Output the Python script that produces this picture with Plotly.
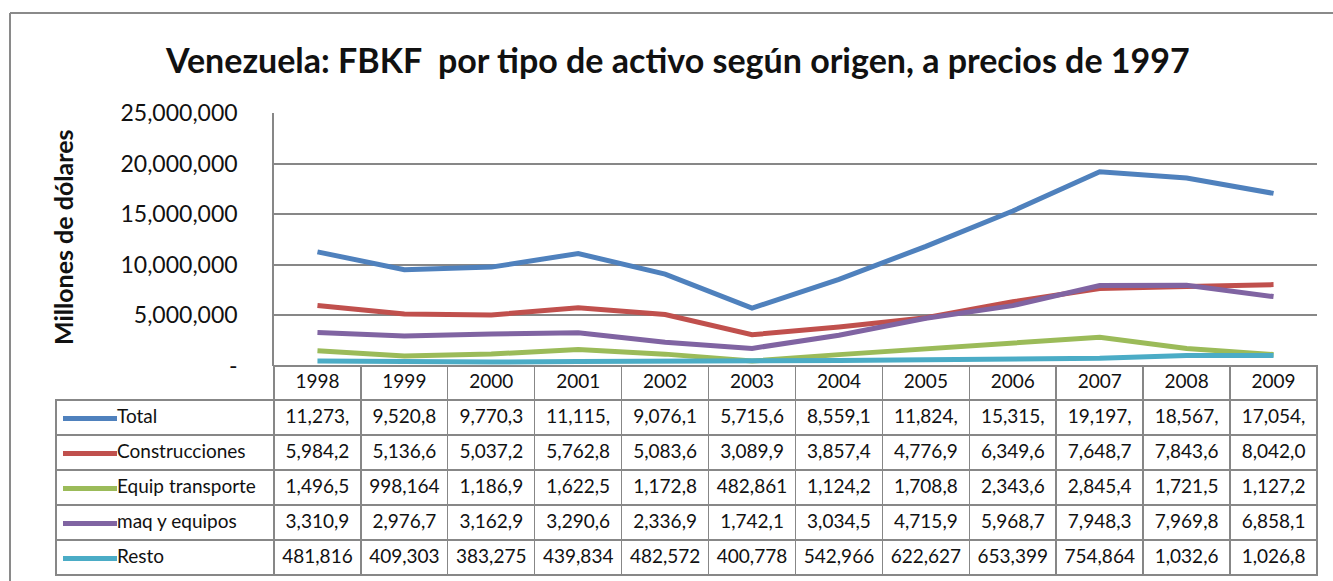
import plotly.graph_objects as go

W, H = 1333, 581

years = [1998, 1999, 2000, 2001, 2002, 2003, 2004, 2005, 2006, 2007, 2008, 2009]
series_names = ["Total", "Construcciones", "Equip transporte", "maq y equipos", "Resto"]
total = [11273500, 9520800, 9770300, 11115500, 9076100, 5715600, 8559100, 11824500, 15315500, 19197500, 18567500, 17054500]
construcciones = [5984200, 5136600, 5037200, 5762800, 5083600, 3089900, 3857400, 4776900, 6349600, 7648700, 7843600, 8042000]
equip_transporte = [1496500, 998164, 1186900, 1622500, 1172800, 482861, 1124200, 1708800, 2343600, 2845400, 1721500, 1127200]
maq_equipos = [3310900, 2976700, 3162900, 3290600, 2336900, 1742100, 3034500, 4715900, 5968700, 7948300, 7969800, 6858100]
resto = [481816, 409303, 383275, 439834, 482572, 400778, 542966, 622627, 653399, 754864, 1032600, 1026800]
colors = ["#4F81BD", "#C0504D", "#9BBB59", "#8064A2", "#4BACC6"]
ytick_vals = [0, 5000000, 10000000, 15000000, 20000000, 25000000]
ytick_text = ["-", "5,000,000", "10,000,000", "15,000,000", "20,000,000", "25,000,000"]

title = "Venezuela: FBKF  por tipo de activo según origen, a precios de 1997"
ytitle = "Millones de dólares"

all_series = [total, construcciones, equip_transporte, maq_equipos, resto]

FONT = "Lato"
GRID = "#878787"
TXT = "#111111"
HEADER_ROW = "__years__"
row_order = [HEADER_ROW] + series_names  # top to bottom


def px(x):
    return x / W


def py(y):
    return 1 - y / H


def cell_text(v):
    # Excel data table shows only as many characters as fit in the cell
    return f"{v:,}"[:7]


fig = go.Figure()

# main lines
for name, vals, col in zip(series_names, all_series, colors):
    fig.add_trace(go.Scatter(x=years, y=vals, mode="lines", name=name,
                             line=dict(color=col, width=5), showlegend=False,
                             hoverinfo="skip", xaxis="x", yaxis="y"))

# data table grid (borders only)
n_rows = len(series_names)
fig.add_trace(go.Table(
    domain=dict(x=[px(56), px(1317)], y=[py(578), py(366)]),
    columnwidth=[218] + [87] * len(years),
    header=dict(values=[""] * (len(years) + 1), height=34,
                fill_color="rgba(0,0,0,0)",
                line=dict(color=["rgba(0,0,0,0)"] + [GRID] * len(years), width=1.5)),
    cells=dict(values=[[""] * n_rows for _ in range(len(years) + 1)], height=35,
               fill_color="rgba(0,0,0,0)",
               line=dict(color=GRID, width=1.5)),
))

# table header (years) and values, placed on the same year axis as the lines
fig.add_trace(go.Scatter(x=years, y=[HEADER_ROW] * len(years), mode="text",
                         text=[str(y) for y in years],
                         textfont=dict(family=FONT, size=19, color=TXT),
                         showlegend=False, hoverinfo="skip",
                         xaxis="x", yaxis="y2", cliponaxis=False))
for name, vals in zip(series_names, all_series):
    fig.add_trace(go.Scatter(x=years, y=[name] * len(years), mode="text",
                             text=[cell_text(v) for v in vals],
                             textfont=dict(family=FONT, size=19, color=TXT),
                             showlegend=False, hoverinfo="skip",
                             xaxis="x", yaxis="y2", cliponaxis=False))

# legend keys inside the table's label column
for name, col in zip(series_names, colors):
    fig.add_trace(go.Scatter(x=[0, 1], y=[name, name], mode="lines+text",
                             text=["", name], textposition="middle right",
                             textfont=dict(family=FONT, size=19, color=TXT),
                             line=dict(color=col, width=5), showlegend=False,
                             hoverinfo="skip", xaxis="x2", yaxis="y2", cliponaxis=False))

fig.update_layout(
    width=W, height=H, margin=dict(l=0, r=0, t=0, b=0, autoexpand=False),
    paper_bgcolor="white", plot_bgcolor="rgba(0,0,0,0)", showlegend=False,
    xaxis=dict(domain=[px(274), px(1317)], range=[1997.5, 2009.5],
               showticklabels=False, showgrid=False, zeroline=False, showline=False,
               fixedrange=True),
    yaxis=dict(domain=[py(366), py(113)], range=[0, 25000000],
               tickvals=ytick_vals, ticktext=ytick_text,
               tickfont=dict(family=FONT, size=23, color=TXT),
               showgrid=True, gridcolor=GRID, gridwidth=1.5, zeroline=False,
               showline=True, linecolor=GRID, linewidth=1.5,
               ticks="", ticklabelstandoff=30, fixedrange=True),
    xaxis2=dict(domain=[px(63), px(117)], range=[0, 1], anchor="y2",
                visible=False, fixedrange=True),
    yaxis2=dict(domain=[py(576), py(366)], type="category",
                categoryorder="array", categoryarray=row_order[::-1],
                range=[-0.5, len(row_order) - 0.5], anchor="x2",
                visible=False, fixedrange=True),
    annotations=[
        dict(text=f"<b>{title}</b>", x=px(677), y=py(59), xref="paper", yref="paper",
             showarrow=False, font=dict(family=FONT, size=34, color=TXT),
             xanchor="center", yanchor="middle"),
        dict(text=f"<b>{ytitle}</b>", x=px(63), y=py(238), xref="paper", yref="paper",
             showarrow=False, textangle=-90, font=dict(family=FONT, size=25, color=TXT),
             xanchor="center", yanchor="middle"),
    ],
    shapes=[
        dict(type="line", xref="paper", yref="paper", x0=px(10), x1=px(10), y0=py(13), y1=0,
             line=dict(color="#8a8a8a", width=2)),
        dict(type="line", xref="paper", yref="paper", x0=px(10), x1=1, y0=py(13), y1=py(13),
             line=dict(color="#8a8a8a", width=2)),
    ],
)

fig.write_html("out.html", config={"displayModeBar": False},
               post_script="document.body.style.margin='0';")
